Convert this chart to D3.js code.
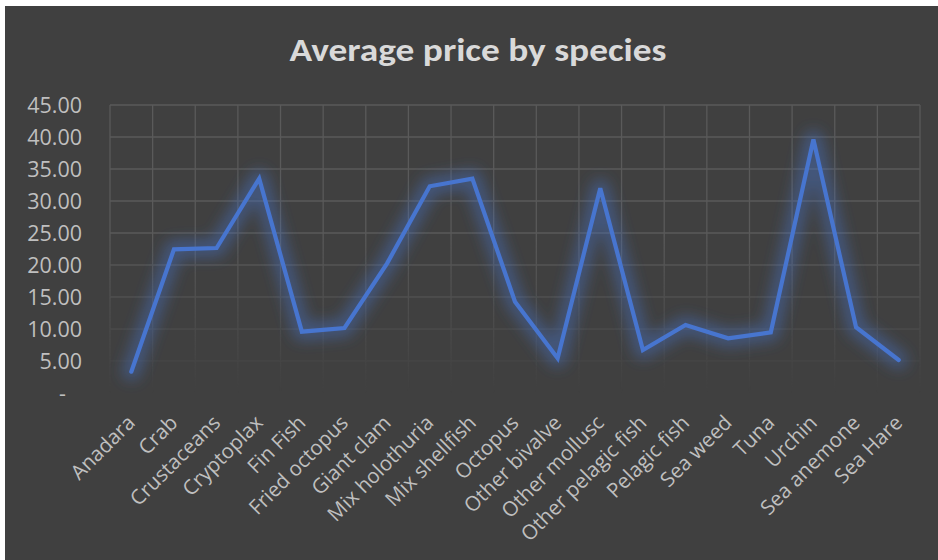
<!DOCTYPE html>
<html><head><meta charset="utf-8">
<script src="https://cdn.jsdelivr.net/npm/d3@7"></script>
<style>html,body{margin:0;padding:0;background:#fff;}svg{display:block;}</style>
</head><body>
<svg id="chart" width="938" height="560"></svg>
<script>
const title = "Average price by species";
const categories = ["Anadara","Crab","Crustaceans","Cryptoplax","Fin Fish","Fried octopus","Giant clam","Mix holothuria","Mix shellfish","Octopus","Other bivalve","Other mollusc","Other pelagic fish","Pelagic fish","Sea weed","Tuna","Urchin","Sea anemone","Sea Hare"];
const values = [3.33,22.45,22.66,33.5,9.58,10.16,20.26,32.3,33.5,14.27,5.42,32.0,6.72,10.63,8.54,9.48,39.6,10.27,5.16];
const yTicks = [0,5,10,15,20,25,30,35,40,45];

const svg = d3.select("#chart");
const W = 938, H = 560;
const m = {left:110, right:18, top:105, bottom:167};
const pw = W - m.left - m.right, ph = H - m.top - m.bottom;

svg.append("rect").attr("x",5).attr("y",6).attr("width",W-5).attr("height",H-6).attr("fill","#404040");

const defs = svg.append("defs");
const grad = defs.append("linearGradient").attr("id","fade").attr("gradientUnits","userSpaceOnUse")
  .attr("x1",0).attr("y1",m.top).attr("x2",0).attr("y2",m.top+ph);
grad.append("stop").attr("offset","0%").attr("stop-color","#fff").attr("stop-opacity",1);
grad.append("stop").attr("offset","45%").attr("stop-color","#fff").attr("stop-opacity",1);
grad.append("stop").attr("offset","100%").attr("stop-color","#fff").attr("stop-opacity",0);
defs.append("mask").attr("id","gmask").append("rect").attr("x",0).attr("y",0).attr("width",W).attr("height",H).attr("fill","url(#fade)");
const glow = defs.append("filter").attr("id","glow").attr("x","-20%").attr("y","-20%").attr("width","140%").attr("height","140%");
glow.append("feGaussianBlur").attr("in","SourceGraphic").attr("stdDeviation",7);

const x = d3.scaleBand().domain(categories).range([m.left, m.left+pw]).padding(0);
const y = d3.scaleLinear().domain([0,45]).range([m.top+ph, m.top]);

const g = svg.append("g").attr("mask","url(#gmask)");
const gridColor = "#5a5a5a";
g.selectAll("line.h").data(yTicks.filter(d=>d>0)).join("line")
  .attr("x1",m.left).attr("x2",m.left+pw).attr("y1",d=>y(d)).attr("y2",d=>y(d))
  .attr("stroke",gridColor).attr("stroke-width",1.3);
const vx = categories.map(c=>x(c)).concat([m.left+pw]);
g.selectAll("line.v").data(vx).join("line")
  .attr("x1",d=>d).attr("x2",d=>d).attr("y1",m.top).attr("y2",m.top+ph)
  .attr("stroke",gridColor).attr("stroke-width",1.3);

// y axis labels
const yAxis = d3.axisLeft(y).tickValues(yTicks).tickSize(0).tickPadding(0)
  .tickFormat(d => d===0 ? "-" : d3.format(".2f")(d));
const ya = svg.append("g").attr("transform",`translate(82,0)`).call(yAxis);
ya.select(".domain").remove();
ya.selectAll("text").attr("fill","#bfbfbf").attr("font-family","'Open Sans', sans-serif").attr("font-size",21.5)
  .attr("text-anchor","end").attr("dy","0.35em");
ya.selectAll(".tick").filter(d=>d===0).select("text").attr("dx",-16);

// x axis labels
const xAxis = d3.axisBottom(x).tickSize(0).tickPadding(0);
const xa = svg.append("g").attr("transform",`translate(0,${m.top+ph})`).call(xAxis);
xa.select(".domain").remove();
xa.selectAll("text").attr("fill","#bfbfbf").attr("font-family","'Open Sans', sans-serif").attr("font-size",20.5)
  .attr("text-anchor","end").attr("dy",null).attr("y",0)
  .attr("transform","translate(5,31) rotate(-45)");

// line
const line = d3.line().x((d,i)=>x(categories[i])+x.bandwidth()/2).y(d=>y(d));
svg.append("path").datum(values).attr("d",line).attr("fill","none")
  .attr("stroke","#4472c4").attr("stroke-opacity",0.45).attr("stroke-width",18)
  .attr("stroke-linejoin","round").attr("stroke-linecap","round").attr("filter","url(#glow)");
svg.append("path").datum(values).attr("d",line).attr("fill","none")
  .attr("stroke","#4775cf").attr("stroke-width",4.2)
  .attr("stroke-linejoin","miter").attr("stroke-linecap","round");

svg.append("text").attr("x",478).attr("y",61).attr("text-anchor","middle")
  .attr("fill","#d9d9d9").attr("font-family","Carlito, 'Liberation Sans Narrow', 'Open Sans', sans-serif")
  .attr("font-weight","bold").attr("font-size",32)
  .attr("textLength",377).attr("lengthAdjust","spacingAndGlyphs").text(title);
</script>
</body></html>
